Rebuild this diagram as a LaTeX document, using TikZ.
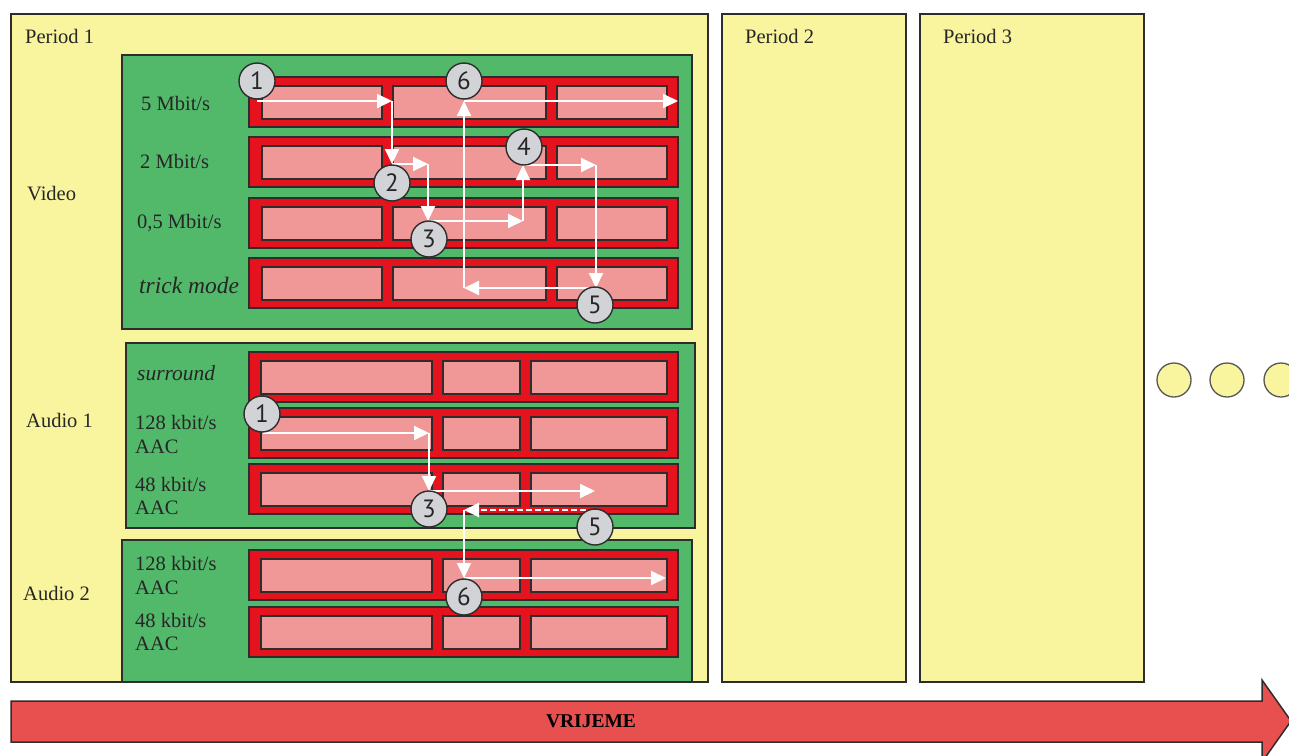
\documentclass[tikz,border=0pt]{standalone}
\usepackage{fontspec}
\setmainfont{Liberation Serif}
\newfontfamily\numfont{PT Sans}
\usetikzlibrary{arrows.meta}
\definecolor{periody}{RGB}{249,244,158}
\definecolor{greenbg}{RGB}{83,185,106}
\definecolor{redbar}{RGB}{228,19,29}
\definecolor{pinkseg}{RGB}{240,152,152}
\definecolor{circgray}{RGB}{210,211,215}
\definecolor{timered}{RGB}{232,80,80}
\definecolor{edge}{RGB}{45,45,45}
\tikzset{
  periodbox/.style={draw=edge,line width=1.5pt,fill=periody},
  greenbox/.style={draw=edge,line width=1.5pt,fill=greenbg},
  redbox/.style={draw=edge,line width=2pt,fill=redbar},
  pinkbox/.style={draw=edge,line width=2pt,fill=pinkseg},
  lbl/.style={anchor=base west,inner sep=0pt,font=\fontsize{20.5}{24}\selectfont,text=black!85},
  ilbl/.style={anchor=base west,inner sep=0pt,text=black!85},
  numc/.style={circle,draw=edge,line width=1.4pt,fill=circgray,minimum size=36pt,inner sep=0pt,font=\numfont\fontsize{25}{25}\selectfont,text=black!85},
  warrow/.style={draw=white,line width=2pt,-{Triangle[length=15pt,width=14pt]}},
  dotc/.style={circle,draw=edge!80,line width=1.3pt,fill=periody,minimum size=34pt,inner sep=0pt},
}
\begin{document}
\begin{tikzpicture}[x=1pt,y=-1pt]
\useasboundingbox (0,0) rectangle (1289,755);
\clip (0,0) rectangle (1289,755);
% periods
\draw[periodbox] (11,14) rectangle (708,682);
\draw[periodbox] (722,14) rectangle (906,682);
\draw[periodbox] (920,14) rectangle (1144,682);
\node[lbl] (p1) at (25,43) {Period 1};
\node[lbl] (p2) at (745,43) {Period 2};
\node[lbl] (p3) at (943,43) {Period 3};
\node[lbl] (lv) at (27,200) {Video};
\node[lbl] (la1) at (26,427) {Audio 1};
\node[lbl] (la2) at (23,600) {Audio 2};
% green boxes
\draw[greenbox] (122,55) rectangle (692,329);
\draw[greenbox] (126,343) rectangle (695,528);
\draw[greenbox] (122,540) rectangle (692,682);
% video bars
\foreach \t in {77,137,198,258}{
  \draw[redbox] (249,\t) rectangle (678,\t+50);
  \foreach \a/\b in {262/382,393/546,557/667}{
    \draw[pinkbox] (\a,\t+9) rectangle (\b,\t+42);
  }
}
% audio bars
\foreach \t in {352,408,464,550,607}{
  \draw[redbox] (249,\t) rectangle (678,\t+50);
  \foreach \a/\b in {261/432,443/520,531/667}{
    \draw[pinkbox] (\a,\t+9) rectangle (\b,\t+42);
  }
}
% video labels
\node[lbl] (v5) at (141,110) {5 Mbit/s};
\node[lbl] (v2) at (140,168) {2 Mbit/s};
\node[lbl] (v05) at (137,228) {0,5 Mbit/s};
\node[ilbl,font=\fontsize{23.5}{26}\selectfont\itshape] (vtm) at (139,293) {trick mode};
% audio labels
\node[ilbl,font=\fontsize{21.5}{24}\selectfont\itshape] (asur) at (137,380) {surround};
\node[lbl] (a128) at (135,429) {128 kbit/s};
\node[lbl] (a128b) at (135,453) {AAC};
\node[lbl] (a48) at (135,491) {48 kbit/s};
\node[lbl] (a48b) at (135,514) {AAC};
\node[lbl] (b128) at (135,570) {128 kbit/s};
\node[lbl] (b128b) at (135,594) {AAC};
\node[lbl] (b48) at (135,627) {48 kbit/s};
\node[lbl] (b48b) at (135,650) {AAC};
% video path coordinates
\coordinate (v0) at (257,101);
\coordinate (v1) at (392,101);
\coordinate (v2a) at (392,164);
\coordinate (v2b) at (428,164);
\coordinate (v3a) at (428,221);
\coordinate (v3b) at (523,221);
\coordinate (v4a) at (523,165);
\coordinate (v4b) at (596,165);
\coordinate (v5a) at (596,288);
\coordinate (v5b) at (464,288);
\coordinate (v6a) at (464,101);
\coordinate (v6b) at (678,101);
\draw[warrow] (v0) -- (v1);
\draw[warrow] (v1) -- (v2a);
\draw[warrow] (v2a) -- (v2b);
\draw[warrow] (v2b) -- (v3a);
\draw[warrow] (v3a) -- (v3b);
\draw[warrow] (v3b) -- (v4a);
\draw[warrow] (v4a) -- (v4b);
\draw[warrow] (v4b) -- (v5a);
\draw[warrow] (v5a) -- (v5b);
\draw[warrow] (v5b) -- (v6a);
\draw[warrow] (v6a) -- (v6b);
% audio path coordinates
\coordinate (u0) at (263,433);
\coordinate (u1) at (429,433);
\coordinate (u3a) at (429,491);
\coordinate (u3b) at (595,491);
\coordinate (u5a) at (595,510);
\coordinate (u5b) at (464,510);
\coordinate (u6a) at (464,578);
\coordinate (u6b) at (666,578);
\draw[warrow] (u0) -- (u1);
\draw[warrow] (u1) -- (u3a);
\draw[warrow] (u3a) -- (u3b);
\draw[warrow,dash pattern=on 6pt off 3pt] (u5a) -- (u5b);
\draw[warrow] (u5b) -- (u6a);
\draw[warrow] (u6a) -- (u6b);
% circles video
\node[numc] (c1) at (257,81) {1};
\node[numc] (c6) at (464,81) {6};
\node[numc] (c2) at (392,183) {2};
\node[numc] (c4) at (524,147) {4};
\node[numc] (c3) at (429,239) {3};
\node[numc] (c5) at (595,305) {5};
% circles audio
\node[numc] (d1) at (262,414) {1};
\node[numc] (d3) at (429,509) {3};
\node[numc] (d5) at (595,527) {5};
\node[numc] (d6) at (464,597) {6};
% dots
\node[dotc] (e1) at (1174,380) {};
\node[dotc] (e2) at (1227,380) {};
\node[dotc] (e3) at (1281,380) {};
% time arrow
\draw[draw=edge,line width=1.5pt,fill=timered] (11,701) -- (1262,701) -- (1262,680) -- (1291,721) -- (1262,762) -- (1262,742) -- (11,742) -- cycle;
\node[inner sep=0pt,font=\fontsize{19.5}{22}\selectfont\bfseries] (vr) at (591,721) {VRIJEME};
\end{tikzpicture}
\end{document}
